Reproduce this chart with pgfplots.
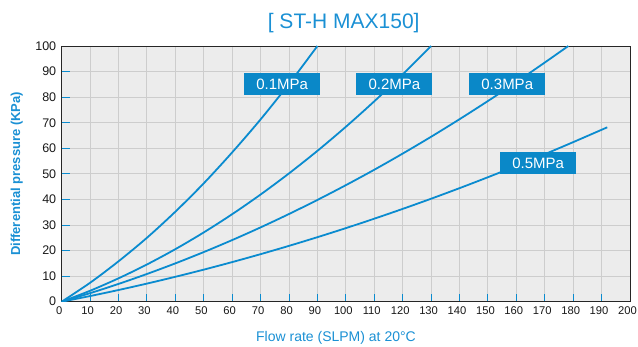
\documentclass[border=0pt]{standalone}
\usepackage{fontspec}
\setmainfont{Liberation Sans}
\usepackage{pgfplots}
\pgfplotsset{compat=1.18}
\definecolor{curve}{HTML}{0A8BCF}
\definecolor{boxblue}{HTML}{0A88C8}
\definecolor{ttl}{HTML}{1A90D4}
\definecolor{bg}{HTML}{ECECEC}
\definecolor{gridc}{HTML}{CDCDCD}
\begin{document}
\begin{tikzpicture}[x=1pt,y=1pt]
\path[use as bounding box] (-61.7,-45.3) rectangle (576.3,301.7);
\begin{axis}[
  scale only axis, width=568.3pt, height=255.7pt,
  xmin=0, xmax=200, ymin=0, ymax=100,
  xtick={0,10,...,200}, ytick={0,10,...,100},
  grid=major, major grid style={gridc, line width=0.9pt},
  axis background/.style={fill=bg},
  axis line style={draw=black!85, line width=0.9pt},
  tick align=inside, xtick pos=bottom, ytick pos=left,
  major tick length=8pt,
  major tick style={curve, line width=0.9pt},
  /pgf/number format/assume math mode=true,
  xticklabel style={font=\fontsize{11.2}{12}\selectfont, text=black!90, yshift=-1pt, xshift=-2.5pt},
  yticklabel style={font=\fontsize{12.5}{13}\selectfont, text=black!90, xshift=-2pt},
  clip=true,
]
\addplot[curve, line width=1.8pt, smooth] coordinates {
 (0,0) (10,7.4) (20,15.8) (30,25.0) (40,35.2) (50,46.3) (60,58.4) (70,71.3) (80,85.2) (90,100)
};
\addplot[curve, line width=1.8pt, smooth] coordinates {
 (0,0) (10,4.28) (20,9.14) (30,14.56) (40,20.54) (50,27.1) (60,34.22) (70,41.92) (80,50.18) (90,59.0) (100,68.4) (110,78.36) (120,88.9) (130,100)
};
\addplot[curve, line width=1.8pt, smooth] coordinates {
 (0,0) (10,3.34) (20,6.95) (30,10.84) (40,14.99) (50,19.41) (60,24.1) (70,29.06) (80,34.3) (90,39.8) (100,45.57) (110,51.6) (120,57.92) (130,64.5) (140,71.36) (150,78.48) (160,85.87) (170,93.53) (178.3,100)
};
\addplot[curve, line width=1.8pt, smooth] coordinates {
 (0,0) (10,2.21) (20,4.57) (30,7.08) (40,9.74) (50,12.54) (60,15.49) (70,18.59) (80,21.84) (90,25.23) (100,28.77) (110,32.46) (120,36.29) (130,40.27) (140,44.4) (150,48.68) (160,53.11) (170,57.68) (180,62.4) (192,68.2)
};
\tikzset{lbl/.style={fill=boxblue, text=white, minimum width=76pt, minimum height=22pt, inner sep=0pt, font=\fontsize{15}{15}\selectfont}}
\node[lbl] at (axis cs:77.6,85) {0.1MPa};
\node[lbl] at (axis cs:117.1,85) {0.2MPa};
\node[lbl] at (axis cs:156.8,85) {0.3MPa};
\node[lbl] at (axis cs:167.7,54.3) {0.5MPa};
\end{axis}
\node[text=ttl, font=\fontsize{21}{22}\selectfont] at (282,278.7) {[ ST-H MAX150]};
\node[text=ttl, font=\fontsize{14}{15}\selectfont] at (274.3,-36.3) {Flow rate (SLPM) at 20\textdegree C};
\node[text=ttl, font=\bfseries\fontsize{13}{14}\selectfont, rotate=90] at (-45,127.8) {Differential pressure (KPa)};
\end{tikzpicture}
\end{document}
